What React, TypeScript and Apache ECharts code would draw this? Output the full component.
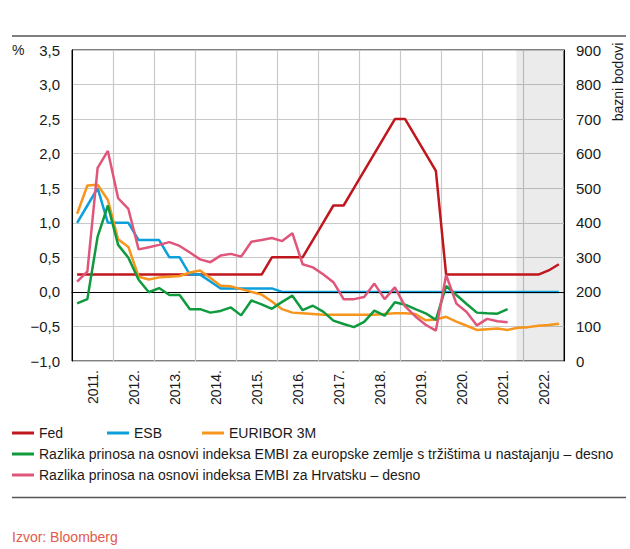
import React, { useEffect, useRef } from "react";
import * as echarts from "echarts";

// Years shown on the x axis (each spans 4 quarters)
const years = ["2011.", "2012.", "2013.", "2014.", "2015.", "2016.", "2017.", "2018.", "2019.", "2020.", "2021.", "2022."];

// Quarterly values, 2011 Q1 .. 2022 Q4 (left axis, %)
const fed = [
  0.25, 0.25, 0.25, 0.25, 0.25, 0.25, 0.25, 0.25, 0.25, 0.25, 0.25, 0.25,
  0.25, 0.25, 0.25, 0.25, 0.25, 0.25, 0.25, 0.5, 0.5, 0.5, 0.5, 0.75,
  1.0, 1.25, 1.25, 1.5, 1.75, 2.0, 2.25, 2.5, 2.5, 2.25, 2.0, 1.75,
  0.25, 0.25, 0.25, 0.25, 0.25, 0.25, 0.25, 0.25, 0.25, 0.25, 0.31, 0.4,
];
const esb = [
  1.0, 1.25, 1.5, 1.0, 1.0, 1.0, 0.75, 0.75, 0.75, 0.5, 0.5, 0.25,
  0.25, 0.15, 0.05, 0.05, 0.05, 0.05, 0.05, 0.05, 0, 0, 0, 0,
  0, 0, 0, 0, 0, 0, 0, 0, 0, 0, 0, 0,
  0, 0, 0, 0, 0, 0, 0, 0, 0, 0, 0, 0,
];
const euribor = [
  1.13, 1.54, 1.55, 1.33, 0.76, 0.65, 0.22, 0.18, 0.21, 0.22, 0.23, 0.28,
  0.31, 0.2, 0.09, 0.08, 0.04, 0.0, -0.04, -0.14, -0.25, -0.3, -0.31, -0.32,
  -0.33, -0.33, -0.33, -0.33, -0.33, -0.33, -0.32, -0.31, -0.31, -0.32, -0.41, -0.4,
  -0.36, -0.43, -0.49, -0.55, -0.54, -0.53, -0.55, -0.52, -0.51, -0.49, -0.48, -0.46,
];
// Right axis, basis points
const embiEurope = [
  167, 179, 360, 450, 336, 299, 235, 199, 211, 191, 191, 150,
  150, 140, 145, 155, 132, 175, 164, 151, 171, 189, 147, 160,
  143, 117, 107, 98, 113, 146, 131, 170, 163, 150, 138, 119,
  217, 191, 165, 140, 138, 137, 150, null, null, null, null, null,
];
const embiCroatia = [
  230, 259, 559, 608, 471, 440, 323, 329, 336, 344, 333, 314,
  294, 286, 305, 310, 302, 345, 350, 356, 347, 370, 280, 271,
  251, 228, 179, 179, 185, 224, 179, 213, 158, 129, 105, 88,
  249, 166, 142, 103, 122, 115, 112, null, null, null, null, null,
];
const leftTicks = { min: -1, max: 3.5, interval: 0.5 };
const rightTicks = { min: 0, max: 900, interval: 100 };
const forecastStart = 43.35; // quarter index where shaded area begins

const FONT = "'Liberation Sans', Arial, sans-serif";

const toPoints = (vals: (number | null)[]) =>
  vals
    .map((v, i) => [i + 0.5, v] as [number, number | null])
    .filter((p) => p[1] !== null);

const fmt = (v: number) => {
  const s = Math.abs(v).toFixed(1).replace(".", ",");
  return v < 0 ? "\u2212" + s : s;
};

export default function App() {
  const ref = useRef<HTMLDivElement>(null);
  useEffect(() => {
    if (!ref.current) return;
    const chart = echarts.init(ref.current, null, { renderer: "svg" });
    const legendBase = {
      icon: "rect",
      itemWidth: 22,
      itemHeight: 3,
      padding: 0,
      selectedMode: false,
      textStyle: { fontSize: 14, color: "#1a1a1a", fontFamily: FONT },
    };
    const lineBase = (name: string, color: string, yAxisIndex: number, data: any[], z: number) => ({
      name,
      type: "line",
      xAxisIndex: 1,
      yAxisIndex,
      data,
      symbol: "none",
      z,
      lineStyle: { color, width: 2.5 },
      itemStyle: { color },
    });
    chart.setOption({
      animation: false,
      textStyle: { fontFamily: FONT },
      grid: {
        left: 72,
        right: 66,
        top: 50,
        bottom: 188,
        show: true,
        borderColor: "#000",
        borderWidth: 1,
        backgroundColor: "transparent",
      },
      legend: [
        { ...legendBase, data: ["Fed"], left: 12, top: 426 },
        { ...legendBase, data: ["ESB"], left: 107, top: 426 },
        { ...legendBase, data: ["EURIBOR 3M"], left: 202, top: 426 },
        {
          ...legendBase,
          data: ["Razlika prinosa na osnovi indeksa EMBI za europske zemlje s tržištima u nastajanju – desno"],
          left: 12,
          top: 447,
        },
        {
          ...legendBase,
          data: ["Razlika prinosa na osnovi indeksa EMBI za Hrvatsku – desno"],
          left: 12,
          top: 468,
        },
      ],
      xAxis: [
        {
          type: "category",
          data: years,
          boundaryGap: true,
          position: "bottom",
          axisLine: { show: true, lineStyle: { color: "#000", width: 1 } },
          axisTick: { show: false },
          splitLine: { show: true, lineStyle: { color: "#c9c9c9", width: 1.2 } },
          axisLabel: {
            rotate: 90,
            margin: 9,
            fontSize: 14,
            color: "#1a1a1a",
            fontFamily: FONT,
            interval: 0,
          },
        },
        {
          type: "value",
          min: 0,
          max: 48,
          show: false,
        },
      ],
      yAxis: [
        {
          type: "value",
          position: "left",
          min: leftTicks.min,
          max: leftTicks.max,
          interval: leftTicks.interval,
          axisLine: { show: true, lineStyle: { color: "#000", width: 1 } },
          axisTick: { show: false },
          splitLine: { show: true, lineStyle: { color: "#c9c9c9", width: 1.2 } },
          axisLabel: {
            margin: 12,
            fontSize: 15,
            color: "#1a1a1a",
            fontFamily: FONT,
            formatter: (v: number) => fmt(v),
          },
        },
        {
          type: "value",
          position: "right",
          min: rightTicks.min,
          max: rightTicks.max,
          interval: rightTicks.interval,
          axisLine: { show: true, lineStyle: { color: "#000", width: 1 } },
          axisTick: { show: false },
          splitLine: { show: false },
          axisLabel: {
            margin: 12,
            fontSize: 15,
            color: "#1a1a1a",
            fontFamily: FONT,
          },
        },
      ],
      series: [
        {
          ...lineBase("Fed", "#c0161d", 0, toPoints(fed), 3),
          markArea: {
            silent: true,
            itemStyle: { color: "rgba(0,0,0,0.08)" },
            data: [[{ xAxis: forecastStart }, { xAxis: 48 }]],
          },
          markLine: {
            silent: true,
            symbol: "none",
            label: { show: false },
            lineStyle: { color: "#000", width: 1, type: "solid" },
            data: [{ yAxis: 0 }],
          },
        },
        lineBase("ESB", "#0b9fdb", 0, toPoints(esb), 4),
        lineBase("EURIBOR 3M", "#f7951c", 0, toPoints(euribor), 5),
        lineBase(
          "Razlika prinosa na osnovi indeksa EMBI za europske zemlje s tržištima u nastajanju – desno",
          "#0f9a3e",
          1,
          toPoints(embiEurope),
          6
        ),
        lineBase(
          "Razlika prinosa na osnovi indeksa EMBI za Hrvatsku – desno",
          "#e0567a",
          1,
          toPoints(embiCroatia),
          7
        ),
      ],
      graphic: [
        {
          type: "line",
          shape: { x1: 12, y1: 36, x2: 626, y2: 36 },
          style: { stroke: "#555", lineWidth: 1.5 },
        },
        {
          type: "line",
          shape: { x1: 12, y1: 497.5, x2: 626, y2: 497.5 },
          style: { stroke: "#555", lineWidth: 1.5 },
        },
        {
          type: "text",
          x: 12,
          y: 50,
          style: { text: "%", fontSize: 14, fill: "#1a1a1a", fontFamily: FONT, verticalAlign: "middle" },
        },
        {
          type: "text",
          x: 618,
          y: 82,
          rotation: Math.PI / 2,
          style: {
            text: "bazni bodovi",
            fontSize: 14,
            fill: "#1a1a1a",
            fontFamily: FONT,
            align: "center",
            verticalAlign: "middle",
          },
        },
        {
          type: "text",
          x: 12,
          y: 537,
          style: {
            text: "Izvor: Bloomberg",
            fontSize: 14,
            fill: "#e35a4c",
            fontFamily: FONT,
            verticalAlign: "middle",
          },
        },
      ],
    });
    return () => chart.dispose();
  }, []);
  return (
    <div style={{ position: "absolute", left: 0, top: 0 }}>
      <div ref={ref} style={{ width: 630, height: 549 }} />
    </div>
  );
}
